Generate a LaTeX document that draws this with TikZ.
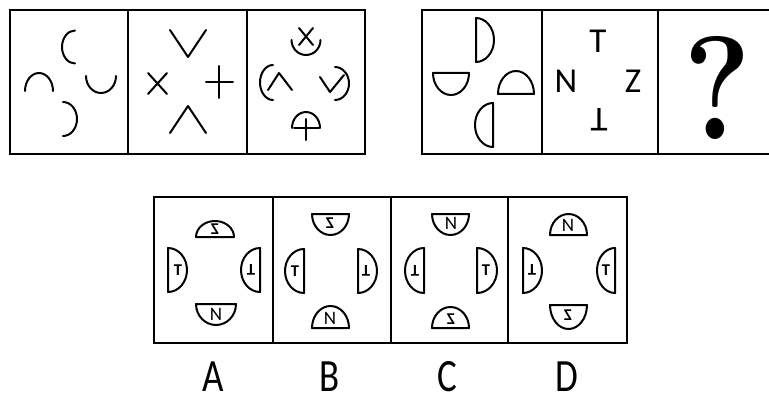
\documentclass[tikz,border=0pt]{standalone}
\usepackage{fontspec}
\newfontfamily\sansf{Carlito}
\tikzset{
  frame/.style={line width=2.4pt},
  shp/.style={line width=2pt, line cap=round, line join=round},
  ltr/.style={inner sep=0pt, font=\sansf\fontsize{16.5}{16.5}\selectfont\bfseries},
  nltr/.style={inner sep=0pt, font=\sansf\fontsize{19}{19}\selectfont},
  big/.style={inner sep=0pt, font=\sansf\fontsize{35}{35}\selectfont},
  lab/.style={inner sep=0pt, font=\sansf\fontsize{37}{37}\selectfont},
}
% half discs (closed) and half arcs (open); x, y, rx, ry
\newcommand\domeU[4]{\draw[shp] ({#1-#3},#2) arc[start angle=180,end angle=360,x radius=#3,y radius=#4] -- cycle;}
\newcommand\domeD[4]{\draw[shp] ({#1-#3},#2) arc[start angle=180,end angle=0,x radius=#3,y radius=#4] -- cycle;}
\newcommand\domeR[4]{\draw[shp] (#1,{#2-#4}) arc[start angle=270,end angle=450,x radius=#3,y radius=#4] -- cycle;}
\newcommand\domeL[4]{\draw[shp] (#1,{#2-#4}) arc[start angle=270,end angle=90,x radius=#3,y radius=#4] -- cycle;}
\newcommand\arcU[4]{\draw[shp] ({#1-#3},#2) arc[start angle=180,end angle=360,x radius=#3,y radius=#4];}
\newcommand\arcD[4]{\draw[shp] ({#1-#3},#2) arc[start angle=180,end angle=0,x radius=#3,y radius=#4];}
\newcommand\arcR[4]{\draw[shp] (#1,{#2-#4}) arc[start angle=270,end angle=450,x radius=#3,y radius=#4];}
\newcommand\arcL[4]{\draw[shp] (#1,{#2-#4}) arc[start angle=270,end angle=90,x radius=#3,y radius=#4];}
\newcommand\mZ{\scalebox{-1}[1]{Z}}
\newcommand\uT{\rotatebox[origin=c]{180}{T}}
\begin{document}
\begin{tikzpicture}[x=1pt,y=-1pt]
\useasboundingbox (0,0) rectangle (769,396);

% ---- frames ----
\draw[frame] (10,10) rectangle (365,154);
\draw[frame] (128,10) -- (128,154) (247,10) -- (247,154);
\draw[frame] (772,10) -- (422,10) -- (422,154) -- (772,154);
\draw[frame] (542,10) -- (542,154) (658,10) -- (658,154);
\draw[frame] (154,197) rectangle (627,343);
\draw[frame] (273,197) -- (273,343) (391,197) -- (391,343) (508,197) -- (508,343);

% ---- box 1 ----
\arcL{75}{47}{13}{16.5}
\arcU{39}{91}{14}{18}
\arcD{101}{76}{15}{17}
\arcR{63}{119}{14}{17}

% ---- box 2 ----
\draw[shp] (170,30) -- (188,57) -- (206,30);
\draw[shp] (148,73) -- (167,94) (167,73) -- (148,94);
\draw[shp] (206,82) -- (233,82) (219,66) -- (219,98);
\draw[shp] (170,133) -- (188,106) -- (206,133);

% ---- box 3 ----
\draw[shp] (299,28) -- (313,45) (313,28) -- (299,45);
\arcD{306}{40}{14.5}{15}
\arcL{273}{82.5}{13}{17.5}
\draw[shp] (268,90) -- (279,73) -- (292,90);
\arcR{335}{83.5}{14}{16.5}
\draw[shp] (320,77) -- (330,92) -- (344,75);
\arcU{306}{128}{14}{16}
\draw[shp] (294,128) -- (319,128) (306,119) -- (306,140);

% ---- box 4 ----
\domeR{476}{40}{18}{22}
\domeD{451}{73}{18}{22}
\domeU{516}{94}{18}{23}
\domeL{493}{125}{18}{22}

% ---- box 5 ----
\node[big] (t5) at (598,41) {T};
\node[big] (n5) at (566,81) {N};
\node[big] (z5) at (633,81) {Z};
\node[big] (u5) at (599,120) {\uT};

% ---- box 6 ----
\node[inner sep=0pt] (q6) at (717,88) {\scalebox{1}[1.15]{\fontsize{128}{128}\selectfont\bfseries ?}};

% ---- option A ----
\domeU{215}{237}{19}{16}   \node[ltr] (az) at (215,229) {\mZ};
\domeR{168}{270}{19}{22}   \node[ltr] (at) at (178,270) {T};
\domeL{260}{270}{19}{22}   \node[ltr] (au) at (251,270) {\uT};
\domeD{216}{304}{20}{21}   \node[nltr] (an) at (216,314) {N};
% ---- option B ----
\domeD{330.5}{214}{18.5}{21} \node[ltr] (bz) at (330,223) {\mZ};
\domeL{304}{271}{19}{22}     \node[ltr] (bt) at (295,271) {T};
\domeR{358}{271}{19}{22}     \node[ltr] (bu) at (366,271) {\uT};
\domeU{330.5}{328}{18.5}{22} \node[nltr] (bn) at (330,318) {N};
% ---- option C ----
\domeD{450.5}{214}{18.5}{21}  \node[nltr] (cn) at (451,223) {N};
\domeL{424}{270.5}{19}{22.5}  \node[ltr] (cu) at (415,271) {\uT};
\domeR{477}{270.5}{20}{22.5}  \node[ltr] (ct) at (486,270) {T};
\domeU{450.5}{328}{18.5}{21}  \node[ltr] (cz) at (451,319) {\mZ};
% ---- option D ----
\domeU{568.5}{235}{18.5}{21}  \node[nltr] (dn) at (568,225) {N};
\domeR{523}{270.5}{19}{22.5}  \node[ltr] (du) at (532,270) {\uT};
\domeL{615}{270.5}{18}{22.5}  \node[ltr] (dt) at (606,270) {T};
\domeD{568.5}{305}{18.5}{24}  \node[ltr] (dz) at (568,315) {\mZ};

% ---- labels ----
\node[lab] (la) at (213,377) {\scalebox{1}[1.25]{A}};
\node[lab] (lb) at (330,377) {\scalebox{1}[1.25]{B}};
\node[lab] (lc) at (447,377) {\scalebox{1}[1.25]{C}};
\node[lab] (ld) at (567,377) {\scalebox{1}[1.25]{D}};
\end{tikzpicture}
\end{document}
